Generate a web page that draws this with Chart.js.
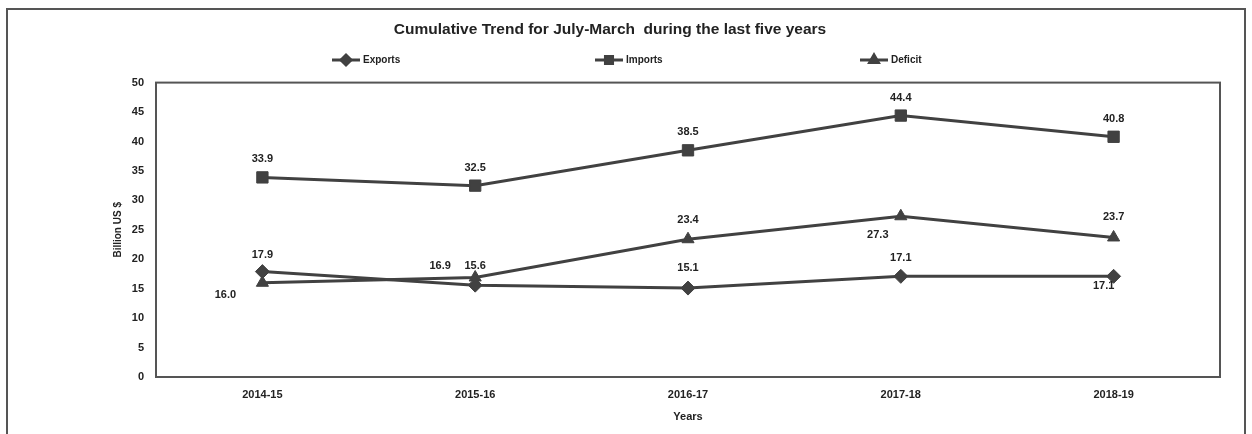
<!DOCTYPE html>
<html>
<head>
<meta charset="utf-8">
<script src="https://cdn.jsdelivr.net/npm/chart.js@4"></script>
<style>
  html, body { margin: 0; padding: 0; background: #fff; }
  #wrap { position: relative; width: 1252px; height: 434px; overflow: hidden; }
  #frame { position: absolute; left: 6px; top: 8px; width: 1236px; height: 450px; border: 2px solid #555; }
  canvas { position: absolute; left: 0; top: 0; }
</style>
</head>
<body>
<div id="wrap">
  <div id="frame"></div>
  <canvas id="myChart" width="1252" height="434"></canvas>
</div>
<script>
var years = ['2014-15', '2015-16', '2016-17', '2017-18', '2018-19'];
var exportsData = [17.9, 15.6, 15.1, 17.1, 17.1];
var importsData = [33.9, 32.5, 38.5, 44.4, 40.8];
var deficitData = [16.0, 16.9, 23.4, 27.3, 23.7];

var lineColor = '#414141';
var textColor = '#222';
var fontFamily = '"Liberation Sans", Arial, sans-serif';

// where each value label sits relative to its point: [dx, dy]
var exportsLabelPos = [[0, -17], [0, -19], [0, -20], [0, -18], [-10, 10]];
var importsLabelPos = [[0, -18], [0, -18], [0, -18], [0, -18], [0, -18]];
var deficitLabelPos = [[-37, 12], [-35, -12], [0, -19], [-23, 19], [0, -20]];

// value labels drawn at the points chart.js has placed
var valueLabels = {
    id: 'valueLabels',
    afterDatasetsDraw: function (chart) {
        var ctx = chart.ctx;
        ctx.save();
        ctx.font = 'bold 11px ' + fontFamily;
        ctx.fillStyle = textColor;
        ctx.textAlign = 'center';
        ctx.textBaseline = 'middle';
        chart.data.datasets.forEach(function (ds, i) {
            var meta = chart.getDatasetMeta(i);
            meta.data.forEach(function (pt, j) {
                var off = ds.labelPos[j];
                ctx.fillText(ds.data[j].toFixed(1), pt.x + off[0], pt.y + off[1]);
            });
        });
        ctx.restore();
    }
};

// box round the plot area
var plotBox = {
    id: 'plotBox',
    beforeDatasetsDraw: function (chart) {
        var a = chart.chartArea;
        var ctx = chart.ctx;
        ctx.save();
        ctx.strokeStyle = '#555';
        ctx.lineWidth = 2;
        ctx.strokeRect(a.left, a.top, a.right - a.left, a.bottom - a.top);
        ctx.restore();
    }
};

// spread-out legend like the excel one
var wideLegend = {
    id: 'wideLegend',
    afterDraw: function (chart) {
        var ctx = chart.ctx;
        var starts = [332, 595, 860];
        var y = 60;
        ctx.save();
        ctx.font = 'bold 10px ' + fontFamily;
        ctx.textBaseline = 'middle';
        ctx.textAlign = 'left';
        chart.data.datasets.forEach(function (ds, i) {
            var x = starts[i];
            ctx.strokeStyle = lineColor;
            ctx.lineWidth = 3;
            ctx.beginPath();
            ctx.moveTo(x, y);
            ctx.lineTo(x + 28, y);
            ctx.stroke();
            Chart.helpers.drawPoint(ctx, {pointStyle: ds.pointStyle, radius: 5, rotation: 0, borderWidth: 1}, x + 14, y);
            ctx.fillStyle = lineColor;
            ctx.fill();
            ctx.fillStyle = textColor;
            ctx.fillText(ds.label, x + 31, y);
        });
        ctx.restore();
    }
};

function makeSet(label, data, style, radius, labelPos) {
    return {
        label: label,
        data: data,
        labelPos: labelPos,
        borderColor: lineColor,
        backgroundColor: lineColor,
        borderWidth: 3,
        pointStyle: style,
        pointRadius: radius,
        pointBackgroundColor: lineColor,
        pointBorderColor: lineColor,
        pointBorderWidth: 1,
        tension: 0
    };
}

var ctx = document.getElementById('myChart').getContext('2d');
var myChart = new Chart(ctx, {
    type: 'line',
    data: {
        labels: years,
        datasets: [
            makeSet('Exports', exportsData, 'rectRot', 7, exportsLabelPos),
            makeSet('Imports', importsData, 'rect', 8, importsLabelPos),
            makeSet('Deficit', deficitData, 'triangle', 7, deficitLabelPos)
        ]
    },
    options: {
        responsive: false,
        animation: false,
        layout: { padding: { left: 0, right: 32, top: 0, bottom: 0 } },
        plugins: {
            legend: { display: false },
            tooltip: { enabled: false },
            title: {
                display: true,
                text: 'Cumulative Trend for July-March  during the last five years',
                color: textColor,
                font: { family: fontFamily, size: 15.5, weight: 'bold' },
                padding: { top: 20, bottom: 44 }
            }
        },
        scales: {
            x: {
                offset: true,
                grid: { display: false, drawTicks: false },
                border: { display: false },
                ticks: {
                    color: textColor,
                    padding: 11,
                    maxRotation: 0,
                    font: { family: fontFamily, size: 11, weight: 'bold' }
                },
                title: {
                    display: true,
                    text: 'Years',
                    color: textColor,
                    padding: { top: 0, bottom: 10 },
                    font: { family: fontFamily, size: 11, weight: 'bold' }
                },
                afterFit: function (scale) { scale.height = 57; }
            },
            y: {
                min: 0,
                max: 50,
                grid: { display: false, drawTicks: false },
                border: { display: false },
                ticks: {
                    stepSize: 5,
                    color: textColor,
                    padding: 12,
                    font: { family: fontFamily, size: 11, weight: 'bold' }
                },
                title: {
                    display: true,
                    text: 'Billion US $',
                    color: textColor,
                    padding: { top: 112, bottom: 0 },
                    font: { family: fontFamily, size: 10, weight: 'bold' }
                },
                afterFit: function (scale) { scale.width = 156; }
            }
        }
    },
    plugins: [plotBox, valueLabels, wideLegend]
});
</script>
</body>
</html>
